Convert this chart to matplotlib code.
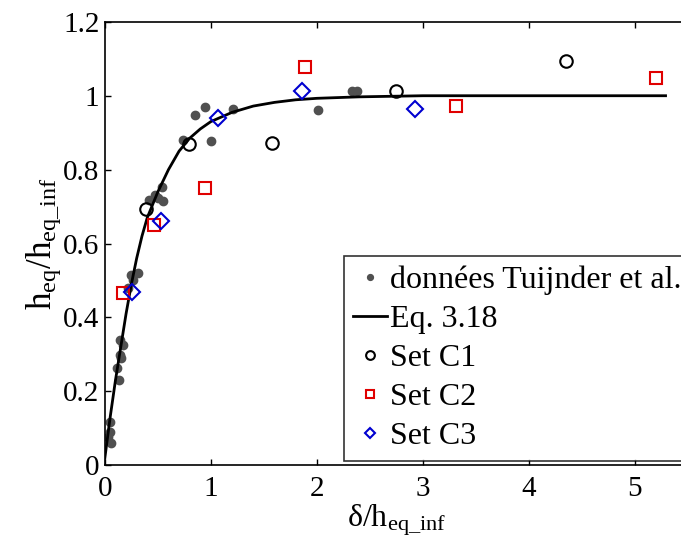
import matplotlib
matplotlib.use("Agg")
import matplotlib.pyplot as plt

plt.rcParams['font.family'] = ['Liberation Serif', 'DejaVu Serif']
plt.rcParams['mathtext.fontset'] = 'custom'
plt.rcParams['mathtext.rm'] = 'Liberation Serif'
plt.rcParams['mathtext.it'] = 'Liberation Serif:italic'

# Tuijnder et al. data
tuij_x = [0.03, 0.05, 0.05, 0.06, 0.11, 0.13, 0.14, 0.15, 0.14, 0.17,
          0.22, 0.25, 0.27, 0.31, 0.42, 0.47, 0.50, 0.54, 0.55,
          0.74, 0.85, 0.94, 1.00, 1.21, 2.01, 2.33, 2.38]
tuij_y = [0.076, 0.09, 0.117, 0.06, 0.263, 0.23, 0.298, 0.29, 0.34, 0.325,
          0.48, 0.515, 0.50, 0.52, 0.718, 0.73, 0.723, 0.754, 0.716,
          0.88, 0.949, 0.97, 0.878, 0.965, 0.962, 1.014, 1.014]

# Eq. 3.18 curve
eq_x = [0, 0.05, 0.1, 0.15, 0.2, 0.25, 0.3, 0.35, 0.4, 0.5, 0.6, 0.7, 0.8,
        0.9, 1.0, 1.2, 1.4, 1.6, 1.8, 2.0, 2.4, 3.0, 5.29]
eq_y = [0.02, 0.13, 0.23, 0.32, 0.41, 0.49, 0.56, 0.62, 0.67, 0.74, 0.80,
        0.85, 0.885, 0.91, 0.93, 0.955, 0.972, 0.982, 0.989, 0.993, 0.997,
        1.0, 1.0]

c1_x = [0.39, 0.79, 1.58, 2.75, 4.35]
c1_y = [0.694, 0.87, 0.872, 1.014, 1.095]

c2_x = [0.17, 0.46, 0.94, 1.89, 3.31, 5.2]
c2_y = [0.466, 0.65, 0.75, 1.077, 0.973, 1.049]

c3_x = [0.26, 0.53, 1.07, 1.86, 2.93]
c3_y = [0.469, 0.661, 0.94, 1.014, 0.964]

fig = plt.figure(figsize=(6.81, 5.46), dpi=100)
ax = fig.add_axes([0.154, 0.148, 0.856, 0.812])

ax.plot(tuij_x, tuij_y, 'o', color='#505050', markersize=6, label='données Tuijnder et al.')
ax.plot(eq_x, eq_y, 'k-', linewidth=2, label='Eq. 3.18')
ax.plot(c1_x, c1_y, 'o', mfc='none', mec='k', mew=1.5, markersize=9, label='Set C1')
ax.plot(c2_x, c2_y, 's', mfc='none', mec='#e00000', mew=1.5, markersize=9, label='Set C2')
ax.plot(c3_x, c3_y, 'D', mfc='none', mec='#0000d0', mew=1.5, markersize=8, label='Set C3')

ax.set_xlim(0, 5.5)
ax.set_ylim(0, 1.2)
ax.set_xticks([0, 1, 2, 3, 4, 5])
ax.set_yticks([0, 0.2, 0.4, 0.6, 0.8, 1.0, 1.2])
ax.set_yticklabels(['0', '0.2', '0.4', '0.6', '0.8', '1', '1.2'])
ax.tick_params(direction='in', top=True, right=True, labelsize=21, length=4, width=1)
ax.tick_params(axis='x', pad=8)
ax.tick_params(axis='y', pad=4)
for s in ax.spines.values():
    s.set_linewidth(1.2)

ax.set_xlabel(r'δ/h$_{\rm eq\_inf}$', fontsize=23, labelpad=0)
ax.set_ylabel(r'h$_{\rm eq}$/h$_{\rm eq\_inf}$', fontsize=25, labelpad=0)

leg = ax.legend(loc='lower left', bbox_to_anchor=(0.41, 0.01), borderaxespad=0,
                fontsize=23, frameon=True, fancybox=False, edgecolor='k',
                handlelength=1.05, handletextpad=0.1, labelspacing=0.3,
                borderpad=0.3, markerscale=0.7)
leg.get_frame().set_linewidth(1.2)

fig.savefig('out.png', dpi=100)
